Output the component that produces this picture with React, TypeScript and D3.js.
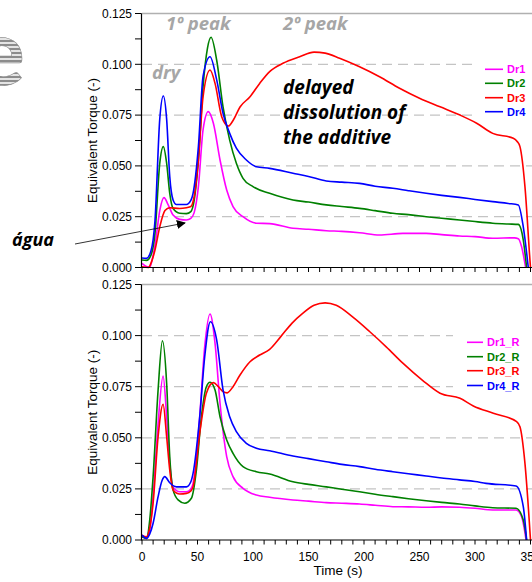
import React from "react";
import * as d3 from "d3";

type P = [number, number];

// ---------- data (time s, equivalent torque) ----------
const dr1: P[] = [[0,0.002],[4,0.0005],[7,0.0002],[10,0.006],[12,0.012],[16,0.028],[19.8,0.0344],[23.6,0.0308],[28,0.0258],[34,0.0237],[40,0.0234],[44,0.0242],[47,0.027],[50.8,0.0398],[55,0.0677],[59.7,0.0767],[64.3,0.071],[70.3,0.0529],[76.3,0.0381],[82,0.030],[91,0.025],[103,0.0218],[115,0.0216],[136,0.0193],[150,0.0188],[166,0.0181],[180,0.0178],[196,0.0171],[214,0.016],[235,0.0168],[256,0.0168],[270,0.0162],[286,0.0155],[300,0.0152],[316,0.0144],[335.5,0.0146],[339,0.0142],[342,0.0102],[345.6,0]];
const dr2: P[] = [[0,0.0037],[4,0.0035],[8,0.006],[11.7,0.0168],[16,0.0513],[19.2,0.0595],[22.2,0.0513],[25,0.0365],[28,0.029],[34,0.0267],[40,0.0265],[44,0.0275],[47,0.033],[50.8,0.0529],[55,0.089],[59,0.108],[62.2,0.1133],[67.3,0.102],[73,0.079],[79,0.0627],[85,0.0513],[91,0.0439],[100,0.0398],[115,0.0365],[136,0.0332],[150,0.0322],[166,0.0308],[180,0.030],[196,0.0291],[210,0.028],[226,0.0267],[240,0.026],[256,0.025],[270,0.0242],[286,0.0234],[300,0.0226],[316,0.0218],[330,0.0214],[339,0.0212],[343.5,0.0135],[346.5,0]];
const dr3: P[] = [[0,0.0004],[5.7,0],[8,0.002],[11.7,0.0086],[16,0.020],[20.7,0.028],[25,0.0294],[34,0.029],[40,0.0294],[44,0.030],[47,0.035],[50.8,0.053],[55,0.084],[61.3,0.0972],[65.8,0.0906],[71.8,0.0742],[77.8,0.0696],[82.3,0.0726],[88.3,0.079],[97.3,0.084],[106,0.0906],[115,0.0964],[127,0.1005],[142,0.1037],[155,0.106],[165,0.1055],[178,0.103],[196,0.0988],[214,0.0939],[232,0.0882],[250,0.0833],[268.5,0.0791],[286.5,0.075],[301.5,0.071],[316,0.066],[334.5,0.0636],[338,0.062],[340.5,0.0595],[345,0.0398],[349.5,0.0037],[350,0]];
const dr4: P[] = [[0,0.0047],[4,0.0045],[8,0.008],[11.7,0.023],[16,0.073],[19.2,0.0844],[22.2,0.073],[25,0.0447],[28,0.0332],[31,0.031],[40,0.031],[44,0.033],[46,0.0365],[50.8,0.0595],[55,0.094],[61.3,0.1037],[67.3,0.0923],[73,0.0759],[79,0.066],[85,0.0587],[94,0.0529],[103,0.0496],[115,0.0488],[136,0.0464],[150,0.0448],[166,0.0426],[180,0.042],[196,0.0414],[210,0.040],[226,0.039],[240,0.0378],[256,0.0365],[270,0.0355],[286,0.0345],[300,0.0335],[316,0.0324],[330,0.0315],[339,0.0308],[343.5,0.020],[348,0]];

const dr1R: P[] = [[0,0.0016],[4,0.001],[7,0.005],[10,0.0212],[14.5,0.057],[19,0.0802],[22.2,0.0603],[25,0.0375],[28,0.0258],[34,0.0236],[40,0.0236],[44,0.025],[46,0.0277],[49,0.040],[52,0.0603],[56.5,0.0946],[61.3,0.1106],[65.8,0.0962],[70.3,0.0669],[76.3,0.0408],[82,0.031],[91,0.0253],[103,0.022],[115,0.0209],[136,0.0196],[150,0.019],[166,0.0183],[180,0.018],[196,0.0176],[210,0.017],[226,0.0163],[240,0.0162],[256,0.016],[270,0.0162],[286,0.016],[300,0.0155],[316,0.0147],[337,0.0147],[342,0.0114],[346,0]];
const dr2R: P[] = [[0,0.0016],[4,0.0008],[7,0.01],[10,0.031],[14.5,0.0734],[18.4,0.0975],[22.2,0.0767],[25,0.0408],[28,0.0245],[32.5,0.0196],[38.5,0.018],[44.5,0.0204],[49,0.0342],[53.5,0.0603],[58,0.075],[61.3,0.0772],[65.8,0.0734],[70.3,0.0603],[76.3,0.0489],[82,0.0424],[91,0.0359],[103,0.0334],[115,0.0323],[136,0.0285],[150,0.0272],[166,0.026],[180,0.0248],[196,0.0236],[210,0.0224],[226,0.0212],[240,0.0202],[256,0.0192],[270,0.0184],[286,0.0176],[300,0.0167],[316,0.0158],[337,0.0155],[343.5,0.0098],[346.5,0]];
const dr3R: P[] = [[0,0.0024],[4,0.0016],[7,0.006],[10,0.018],[14.5,0.0505],[19,0.0664],[22.2,0.0505],[25,0.0342],[28,0.0245],[34,0.0225],[40,0.0228],[44,0.024],[46,0.026],[52,0.0522],[58,0.0718],[64.3,0.077],[68.8,0.075],[73,0.0726],[76.7,0.072],[82,0.075],[88.3,0.0807],[97.3,0.0872],[106,0.0905],[115,0.0933],[125,0.0995],[135,0.106],[145,0.111],[155,0.1148],[165,0.116],[175,0.1148],[190,0.109],[205,0.102],[220,0.0945],[235,0.0865],[253,0.078],[268.5,0.0718],[286.5,0.0693],[298.5,0.0656],[316.5,0.062],[337.5,0.0579],[340.5,0.0554],[345,0.0375],[350,0]];
const dr4R: P[] = [[0,0.0024],[4,0.0008],[7,0.003],[10,0.0082],[14.5,0.0212],[18,0.029],[20.5,0.031],[25,0.028],[31,0.026],[40,0.026],[44,0.0285],[46,0.0326],[52,0.0603],[56.5,0.0897],[61.6,0.1068],[67.3,0.0978],[73,0.0734],[79,0.0603],[85,0.053],[94,0.0473],[103,0.0449],[115,0.0437],[136,0.0411],[150,0.0398],[166,0.0383],[180,0.037],[196,0.0359],[210,0.0346],[226,0.0334],[240,0.0324],[256,0.0313],[270,0.0303],[286,0.0294],[300,0.0286],[310,0.0277],[337,0.0264],[343.5,0.0163],[346.5,0]];

const topNames = ["Dr1", "Dr2", "Dr3", "Dr4"];
const botNames = ["Dr1_R", "Dr2_R", "Dr3_R", "Dr4_R"];
const colors = ["#ff00ff", "#008000", "#ff0000", "#0000ff"];
const topSeries = [dr1, dr2, dr3, dr4];
const botSeries = [dr1R, dr2R, dr3R, dr4R];
const yTicks = [0, 0.025, 0.05, 0.075, 0.1, 0.125];
const yMinor = [0.0125, 0.0375, 0.0625, 0.0875, 0.1125];
const xTickLabels = [0, 50, 100, 150, 200, 250, 300, 350];
const xMinor = d3.range(0, 351, 10);

const W = 532, H = 582;
const x = d3.scaleLinear().domain([0, 350]).range([142, 530.5]);

const AX = "'Liberation Sans', Arial, sans-serif";
const ANN = "'Open Sans', Lato, sans-serif";

function Panel({ y0, y1, series, names, showX, legend }: any) {
  const y = d3.scaleLinear().domain([0, 0.125]).range([y0, y1]);
  const line = d3.line<P>().x(d => x(d[0])).y(d => y(d[1])).curve(d3.curveMonotoneX);
  return (
    <g>
      {[0.025, 0.05, 0.075, 0.1].map(v => (
        <line key={v} x1={142} x2={W} y1={y(v)} y2={y(v)} stroke="#c4c4c4" strokeWidth={1.2} strokeDasharray="10,6" />
      ))}
      <line x1={142} x2={W} y1={y(0.125)} y2={y(0.125)} stroke="#b0b0b0" strokeWidth={1.5} />
      <rect x={legend.bx} y={legend.by} width={W - legend.bx} height={legend.bh} fill="#fff" />
      {series.map((s: P[], i: number) => (
        <path key={i} d={line(s) || ""} fill="none" stroke={colors[i]} strokeWidth={1.6} />
      ))}
      <line x1={141.5} x2={141.5} y1={y(0.125)} y2={y(0) + 0.5} stroke="#000" strokeWidth={1.2} />
      <line x1={141.5} x2={W} y1={y(0)} y2={y(0)} stroke="#000" strokeWidth={1.2} />
      {yTicks.concat(yMinor).map(v => (
        <line key={"yt" + v} x1={135} x2={141.5} y1={y(v)} y2={y(v)} stroke="#000" strokeWidth={1} />
      ))}
      {yTicks.map(v => (
        <text key={"yl" + v} x={132} y={y(v) + 4.2} textAnchor="end" fontFamily={AX} fontSize={12} fill="#000">
          {d3.format(".3f")(v)}
        </text>
      ))}
      {xMinor.map(t => (
        <line key={"xt" + t} x1={x(t)} x2={x(t)} y1={y(0)} y2={y(0) + 4.5} stroke="#000" strokeWidth={1} />
      ))}
      {showX && xTickLabels.map(t => (
        <text key={"xl" + t} x={x(t)} y={y(0) + 21} textAnchor="middle" fontFamily={AX} fontSize={12} fill="#000">{t}</text>
      ))}
      <text transform={`translate(97,${(y0 + y1) / 2}) rotate(-90)`} textAnchor="middle" fontFamily={AX} fontSize={13.5} fill="#000">
        Equivalent Torque (-)
      </text>
      {names.map((n: string, i: number) => (
        <g key={n}>
          <line x1={legend.lx1} x2={legend.lx2} y1={legend.ly[i]} y2={legend.ly[i]} stroke={colors[i]} strokeWidth={1.6} />
          <text x={legend.tx} y={legend.ly[i] + 4} fontFamily={AX} fontWeight="bold" fontSize={11} fill={colors[i]}>{n}</text>
        </g>
      ))}
    </g>
  );
}

export default function App() {
  return (
    <svg width={W} height={H} style={{ position: "absolute", left: 0, top: 0, background: "#fff" }} xmlns="http://www.w3.org/2000/svg">
      <defs>
        <pattern id="stripes" patternUnits="userSpaceOnUse" width={8} height={4}>
          <rect width={8} height={4} fill="#e4e4e4" />
          <rect width={8} height={2} fill="#8c8c8c" />
        </pattern>
        <marker id="arr" viewBox="0 0 10 10" refX={9} refY={5} markerWidth={9} markerHeight={9} orient="auto" markerUnits="userSpaceOnUse">
          <path d="M0,0 L10,5 L0,10 z" fill="#000" />
        </marker>
      </defs>
      <rect width={W} height={H} fill="#fff" />
      <text x={25} y={85} textAnchor="end" fontFamily="Lato, sans-serif" fontWeight="bold" fontSize={92} fill="url(#stripes)" stroke="#8c8c8c" strokeWidth={0.6}>e</text>

      <Panel y0={267.5} y1={13.5} series={topSeries} names={topNames} showX={false}
        legend={{ bx: 474, by: 58, bh: 62, lx1: 485, lx2: 503, tx: 507, ly: [69.3, 83.3, 97.7, 111.7] }} />
      <Panel y0={540} y1={284.5} series={botSeries} names={botNames} showX={true}
        legend={{ bx: 453, by: 331, bh: 64, lx1: 467, lx2: 483, tx: 487, ly: [342.3, 356.7, 370.7, 385.5] }} />

      <text x={338} y={575} textAnchor="middle" fontFamily={AX} fontSize={13.5} fill="#000">Time (s)</text>

      <g fontFamily={ANN} fontWeight="bold" fontStyle="italic">
        <text x={166} y={30} fontSize={18.5} fill="#a6a6a6">1º peak</text>
        <text x={283} y={30} fontSize={18.5} fill="#a6a6a6">2º peak</text>
        <text x={152} y={79} fontSize={18.5} fill="#a6a6a6">dry</text>
        <text x={283} y={94} fontSize={19} fill="#000">delayed</text>
        <text x={283} y={119} fontSize={19} fill="#000">dissolution of</text>
        <text x={283} y={144} fontSize={19} fill="#000">the additive</text>
        <text x={12} y={246} fontSize={18} fill="#000">água</text>
      </g>
      <line x1={75} y1={244} x2={185} y2={223} stroke="#000" strokeWidth={0.8} markerEnd="url(#arr)" />
    </svg>
  );
}
